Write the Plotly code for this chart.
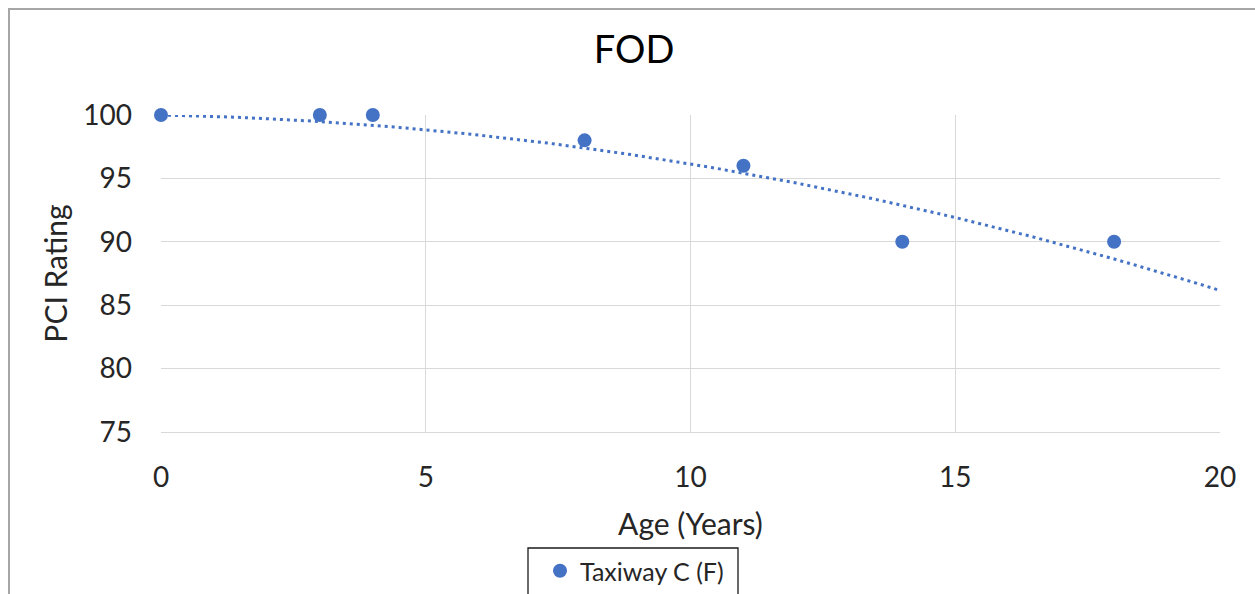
import numpy as np
import plotly.graph_objects as go

# Pavement age (years) and PCI rating for Taxiway C
age_years = [0, 3, 4, 8, 11, 14, 18]
pci_rating = [100, 100, 100, 98, 96, 90, 90]
series_name = "Taxiway C (F)"
x_ticks = [0, 5, 10, 15, 20]
y_ticks = [75, 80, 85, 90, 95, 100]
trend_intercept = 100  # polynomial trendline with its intercept fixed

W, H = 1255, 594
L, R, T, B = 161, 1220, 115, 432  # plot area in pixels


def px_x(px):
    return (px - L) / (R - L)


def px_y(py):
    return (B - py) / (B - T)


# Second-order polynomial trendline (b*x + c*x^2 + intercept), least squares
xa = np.asarray(age_years, dtype=float)
ya = np.asarray(pci_rating, dtype=float)
A = np.column_stack([xa, xa ** 2])
(b1, b2), *_ = np.linalg.lstsq(A, ya - trend_intercept, rcond=None)
trend_x = np.linspace(0, 20, 201)
trend_y = trend_intercept + b1 * trend_x + b2 * trend_x ** 2

blue = "#4472C4"
family = "Lato, 'Open Sans', sans-serif"
ink = "#262626"

fig = go.Figure()
fig.add_trace(go.Scatter(
    x=trend_x, y=trend_y, mode="lines",
    line=dict(color=blue, width=3, dash="3px,4px"),
    showlegend=False, hoverinfo="skip", cliponaxis=False,
))
fig.add_trace(go.Scatter(
    x=age_years, y=pci_rating, mode="markers", name=series_name,
    marker=dict(color=blue, size=14),
    cliponaxis=False,
))

grid = "#D9D9D9"
fig.update_layout(
    width=W, height=H,
    margin=dict(l=L, r=W - R, t=T, b=H - B, autoexpand=False),
    paper_bgcolor="white", plot_bgcolor="white",
    font=dict(family=family, size=25, color=ink),
    title=dict(text="FOD", x=634 / W, xref="container", xanchor="center",
               y=1 - 50 / H, yref="container", yanchor="middle",
               font=dict(family=family, size=38, color="#000000")),
    xaxis=dict(
        range=[0, 20], tickvals=x_ticks, showgrid=True, gridcolor=grid,
        gridwidth=1.3, zeroline=False, showline=True, linecolor=grid,
        linewidth=1.3, ticks="", ticklabelstandoff=20, automargin=False,
        tickfont=dict(family=family, size=28, color=ink),
        title=dict(text="Age (Years)", standoff=22),
    ),
    yaxis=dict(
        range=[75, 100], tickvals=y_ticks, showgrid=True, gridcolor=grid,
        gridwidth=1.3, zeroline=False, showline=False, automargin=False,
        ticks="", ticklabelstandoff=28,
        tickfont=dict(family=family, size=28, color=ink),
        title=dict(text="PCI Rating", standoff=6),
    ),
    legend=dict(
        orientation="h", x=px_x(540), xanchor="left",
        y=px_y(571), yanchor="middle",
        bgcolor="rgba(0,0,0,0)", borderwidth=0,
        font=dict(family=family, size=25, color=ink),
    ),
    shapes=[
        # outer chart border
        dict(type="rect", xref="paper", yref="paper",
             x0=px_x(9), x1=px_x(1264), y0=px_y(612), y1=px_y(9),
             line=dict(color="#A6A6A6", width=2), layer="below"),
        # legend frame
        dict(type="rect", xref="paper", yref="paper",
             x0=px_x(528), x1=px_x(738), y0=px_y(612), y1=px_y(548),
             line=dict(color="#1a1a1a", width=1.3)),
    ],
)

fig.write_html("out.html")
